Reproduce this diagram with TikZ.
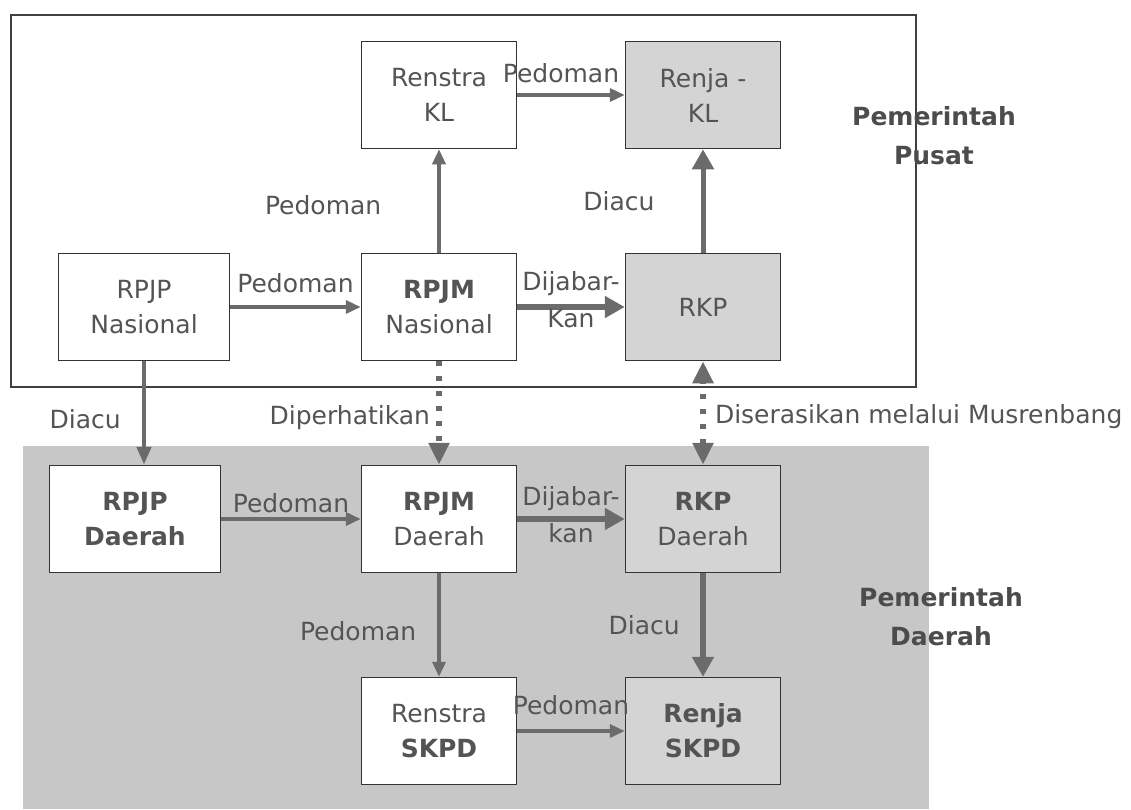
\documentclass[tikz,border=0pt]{standalone}
\usepackage{fontspec}
\setmainfont{DejaVu Sans}
\usepackage{tikz}
\usetikzlibrary{positioning}
\usetikzlibrary{arrows.meta}
\definecolor{txtgrey}{gray}{0.33}
\definecolor{linegrey}{gray}{0.42}
\definecolor{bggrey}{gray}{0.78}
\definecolor{boxgrey}{gray}{0.83}
\tikzstyle{plainbox}=[rectangle,draw=black!80,line width=1.5pt,fill=white,minimum width=155pt,minimum height=107pt,inner sep=0pt,align=center,text=txtgrey,font=\fontsize{25pt}{35pt}\selectfont]
\tikzstyle{widebox}=[plainbox,minimum width=171pt]
\tikzstyle{greybox}=[plainbox,fill=boxgrey]
\tikzstyle{edge} = [draw,line width=3.5pt,linegrey,-{Triangle[length=15pt,width=13pt]}]
\tikzstyle{thickedge} = [draw,line width=6.5pt,linegrey,-{Triangle[length=20pt,width=21pt]}]
\tikzstyle{dottededge} = [draw,line width=6pt,linegrey,dash pattern=on 5pt off 10pt,>={Triangle[length=22pt,width=20pt]},->]
\tikzstyle{weight} = [inner sep=0pt,text=txtgrey,align=center,font=\fontsize{25pt}{37pt}\selectfont]
\tikzstyle{region} = [inner sep=0pt,text=txtgrey!90!black,align=center,font=\fontsize{25pt}{39pt}\selectfont\bfseries]

\begin{document}
\begin{tikzpicture}[x=1pt,y=-1pt]
 \useasboundingbox (0,0) rectangle (1131,809);

 %background Daerah
 \fill[bggrey] (23,446) rectangle (929,809);
 %frame Pusat
 \draw[line width=2pt, black!75] (11,15) rectangle (916,387);

 %Pusat
 \node[widebox] (rpjpn) at (144,307) {RPJP\\Nasional};
 \foreach \x/\y/\name/\label in {439/95/renstrakl/{Renstra\\KL}, 439/307/rpjmn/{\textbf{RPJM}\\Nasional}}
          \node[plainbox] (\name) at (\x,\y) {\label};
 \foreach \x/\y/\name/\label in {703/95/renjakl/{Renja -\\KL}, 703/307/rkp/{RKP}}
          \node[greybox] (\name) at (\x,\y) {\label};

 %Daerah
 \node[widebox] (rpjpd) at (135,519) {\textbf{RPJP}\\\textbf{Daerah}};
 \foreach \x/\y/\name/\label in {439/519/rpjmd/{\textbf{RPJM}\\Daerah}, 439/731/renstraskpd/{Renstra\\\textbf{SKPD}}}
          \node[plainbox] (\name) at (\x,\y) {\label};
 \foreach \x/\y/\name/\label in {703/519/rkpd/{\textbf{RKP}\\Daerah}, 703/731/renjaskpd/{\textbf{Renja}\\\textbf{SKPD}}}
          \node[greybox] (\name) at (\x,\y) {\label};

 %Pedoman
 \foreach \source/ \dest /\gap in {rpjpn/rpjmn/12pt, rpjpd/rpjmd/4pt, renstraskpd/renjaskpd/14pt}
         \path[edge] (\source) -- node[weight, above=\gap] {Pedoman} (\dest);
 \path[edge] (renstrakl) -- node[weight, above=10pt, xshift=-10pt] {Pedoman} (renjakl);
 \path[edge] (rpjmn) -- node[weight, left=56pt, yshift=-4pt] {Pedoman} (renstrakl);
 \path[edge] (rpjmd) -- node[weight, left=21pt, yshift=-6pt] {Pedoman} (renstraskpd);

 %Diacu
 \path[edge, line width=4.5pt, -{Triangle[length=18pt,width=14pt]}] (rpjpn) -- node[weight, left=21pt, yshift=-6pt] {Diacu} (rpjpn |- rpjpd.north);
 \path[thickedge, line width=5pt] (rkp) -- node[weight, left=46pt] {Diacu} (renjakl);
 \path[thickedge] (rkpd) -- node[weight, left=20pt] {Diacu} (renjaskpd);

 %Dijabarkan
 \path[thickedge] (rpjmn) -- node[weight, yshift=7pt] {Dijabar-\\Kan} (rkp);
 \path[thickedge] (rpjmd) -- node[weight, yshift=4pt] {Dijabar-\\kan} (rkpd);

 %dotted
 \path[dottededge] (rpjmn) -- node[weight, left=6pt, yshift=-5pt] {Diperhatikan} (rpjmd);
 \path[dottededge, <->] (rkpd) -- node[weight, right=9pt, yshift=-4pt] {Diserasikan melalui Musrenbang} (rkp);

 \node[region] (pusat) at (934,136) {Pemerintah\\Pusat};
 \node[region] (daerah) at (941,617) {Pemerintah\\Daerah};

\end{tikzpicture}
\end{document}
